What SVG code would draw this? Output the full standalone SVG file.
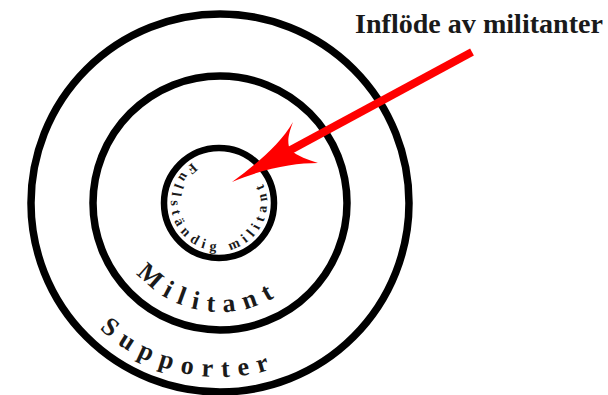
<svg xmlns="http://www.w3.org/2000/svg" xmlns:xlink="http://www.w3.org/1999/xlink" width="608" height="395" viewBox="0 0 608 395">
  <style>
    .ring { fill: none; stroke: #000; stroke-width: 7.5; }
    .lbl { font-family: "Liberation Serif", "DejaVu Serif", serif; font-weight: bold; fill: #1a1a1a; }
    .big { font-size: 26px; letter-spacing: 8.7px; }
    .small { font-size: 14px; letter-spacing: 5.2px; }
    .arrow { fill: #ff0000; stroke: none; }
    .shaft { stroke: #ff0000; stroke-width: 8; fill: none; }
  </style>
  <defs>
    <path id="pOuter" d="M46,203 A174,174 0 0 0 394,203 A174,174 0 0 0 46,203"/>
    <path id="pMiddle" d="M111,203 A109,109 0 0 0 329,203 A109,109 0 0 0 111,203"/>
    <path id="pInner" d="M219,155 A48,48 0 0 0 219,251 A48,48 0 0 0 219,155"/>
  </defs>
  <rect width="608" height="395" fill="#fff"/>
  <g id="supporter">
    <circle class="ring" cx="220" cy="203" r="189"/>
    <text class="lbl big"><textPath xlink:href="#pOuter" href="#pOuter" startOffset="140">Supporter</textPath></text>
  </g>
  <g id="militant">
    <circle class="ring" cx="220" cy="203" r="127"/>
    <text class="lbl big"><textPath xlink:href="#pMiddle" href="#pMiddle" startOffset="76">Militant</textPath></text>
  </g>
  <g id="fullstandig">
    <ellipse class="ring" cx="219" cy="203" rx="55" ry="55" style="stroke-width:6.5"/>
    <text class="lbl small"><textPath xlink:href="#pInner" href="#pInner" startOffset="28">Fullständig militant</textPath></text>
  </g>
  <g id="inflode">
    <text class="lbl" x="355" y="33" font-size="28" textLength="248" lengthAdjust="spacingAndGlyphs">Inflöde av militanter</text>
  </g>
  <g id="connectors">
    <line class="shaft" x1="472" y1="52" x2="285" y2="153"/>
    <path class="arrow" d="M232,182 C255,165 280,145 293,122 C288,135 287,142 290,150 C298,156 308,160 318,163 C295,163 265,168 232,182 Z"/>
  </g>
</svg>
